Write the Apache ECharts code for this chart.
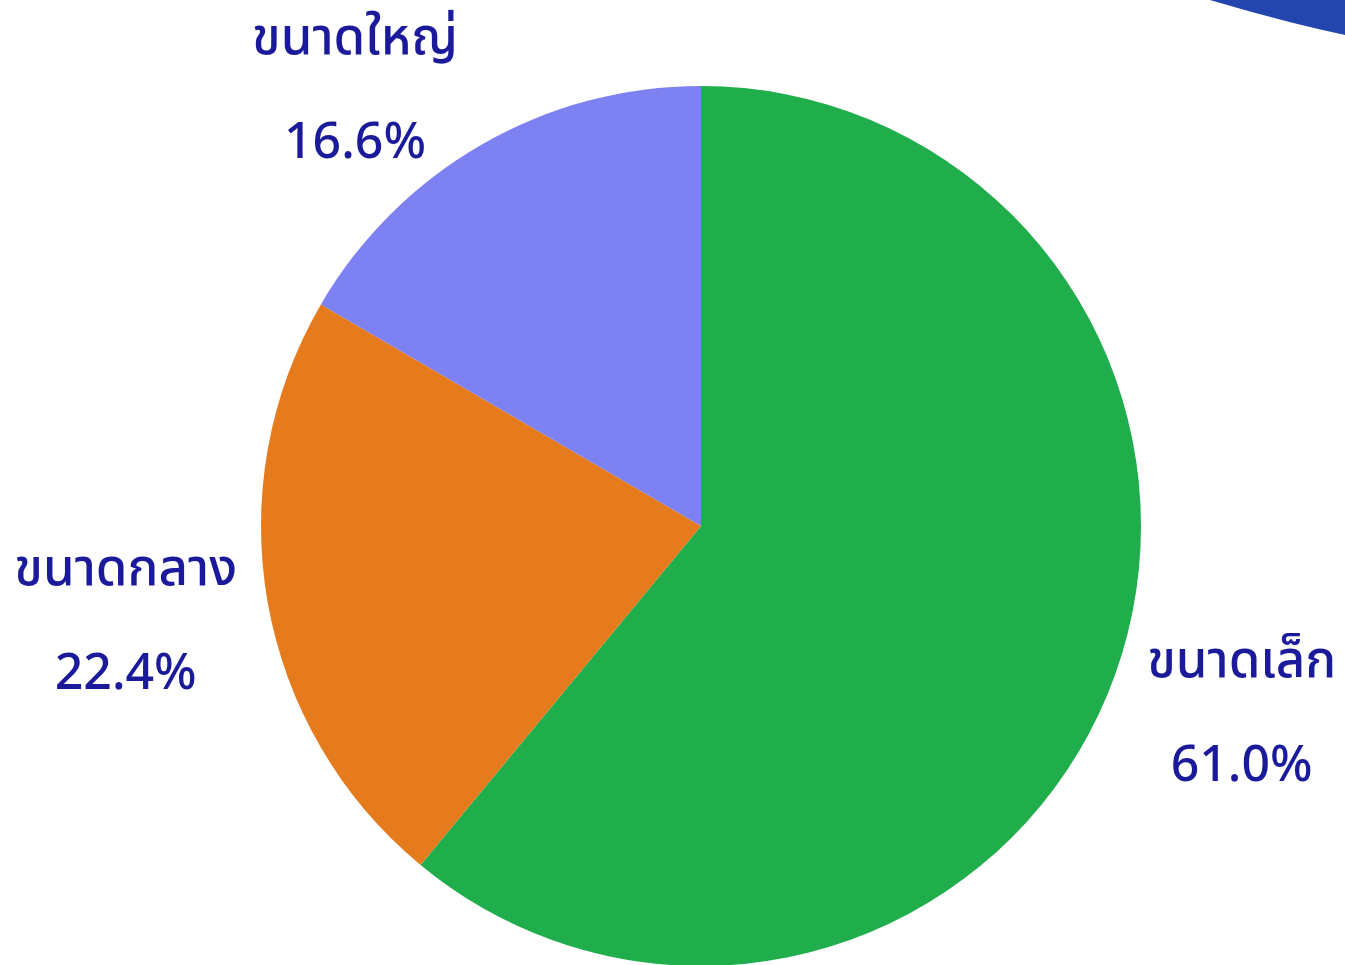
<!DOCTYPE html>
<html>
<head>
<meta charset="utf-8">
<script src="https://cdn.jsdelivr.net/npm/echarts@6/dist/echarts.min.js"></script>
<style>
  html, body { margin: 0; padding: 0; background: #ffffff; }
  #chart { width: 1345px; height: 965px; }
</style>
</head>
<body>
<div id="chart"></div>
<script>
// ขนาดธุรกิจ สัดส่วน (%)
const categories = ['ขนาดเล็ก', 'ขนาดกลาง', 'ขนาดใหญ่'];
const shares = [61.0, 22.4, 16.6];
const colors = ['#1fae4b', '#e57b1d', '#7e81f1'];

const myChart = echarts.init(document.getElementById('chart'));

const option = {
  animation: false,
  backgroundColor: '#ffffff',
  graphic: [
    {
      // ส่วนโค้งสีน้ำเงินมุมขวาบน
      type: 'circle',
      shape: { cx: 1749, cy: -1800, r: 1879 },
      style: { fill: '#2246ae' },
      silent: true
    }
  ],
  series: [
    {
      type: 'pie',
      center: [701, 526],
      radius: 440,
      startAngle: 90,
      clockwise: true,
      avoidLabelOverlap: false,
      data: categories.map((name, i) => ({
        name: name,
        value: shares[i],
        itemStyle: { color: colors[i] }
      })),
      label: {
        show: true,
        position: 'outside',
        overflow: 'none',
        fontFamily: "'Noto Sans', 'Noto Sans Thai'",
        fontSize: 50,
        fontWeight: 500,
        lineHeight: 50,
        color: '#1a1a9b',
        formatter: p => '{a|' + p.name + '}\n{b|' + p.percent.toFixed(1) + '%}',
        rich: {
          a: {
            fontFamily: "'Noto Sans Thai', 'Noto Sans'",
            fontSize: 51,
            fontWeight: 500,
            lineHeight: 50,
            color: '#1a1a9b',
            align: 'center'
          },
          b: {
            fontFamily: 'Noto Sans',
            fontSize: 50,
            fontWeight: 500,
            lineHeight: 100,
            verticalAlign: 'bottom',
            color: '#1a1a9b',
            align: 'center'
          }
        }
      },
      labelLine: { show: false, length: 124, length2: 10 },
      // ขยับป้ายชิ้นเล็กด้านบนให้อยู่ในกรอบภาพ
      labelLayout: p => (p.dataIndex === 2 ? { align: 'center', dx: -50, dy: 57 } : { align: 'center', dx: -5 })
    }
  ]
};

myChart.setOption(option);
</script>
</body>
</html>
